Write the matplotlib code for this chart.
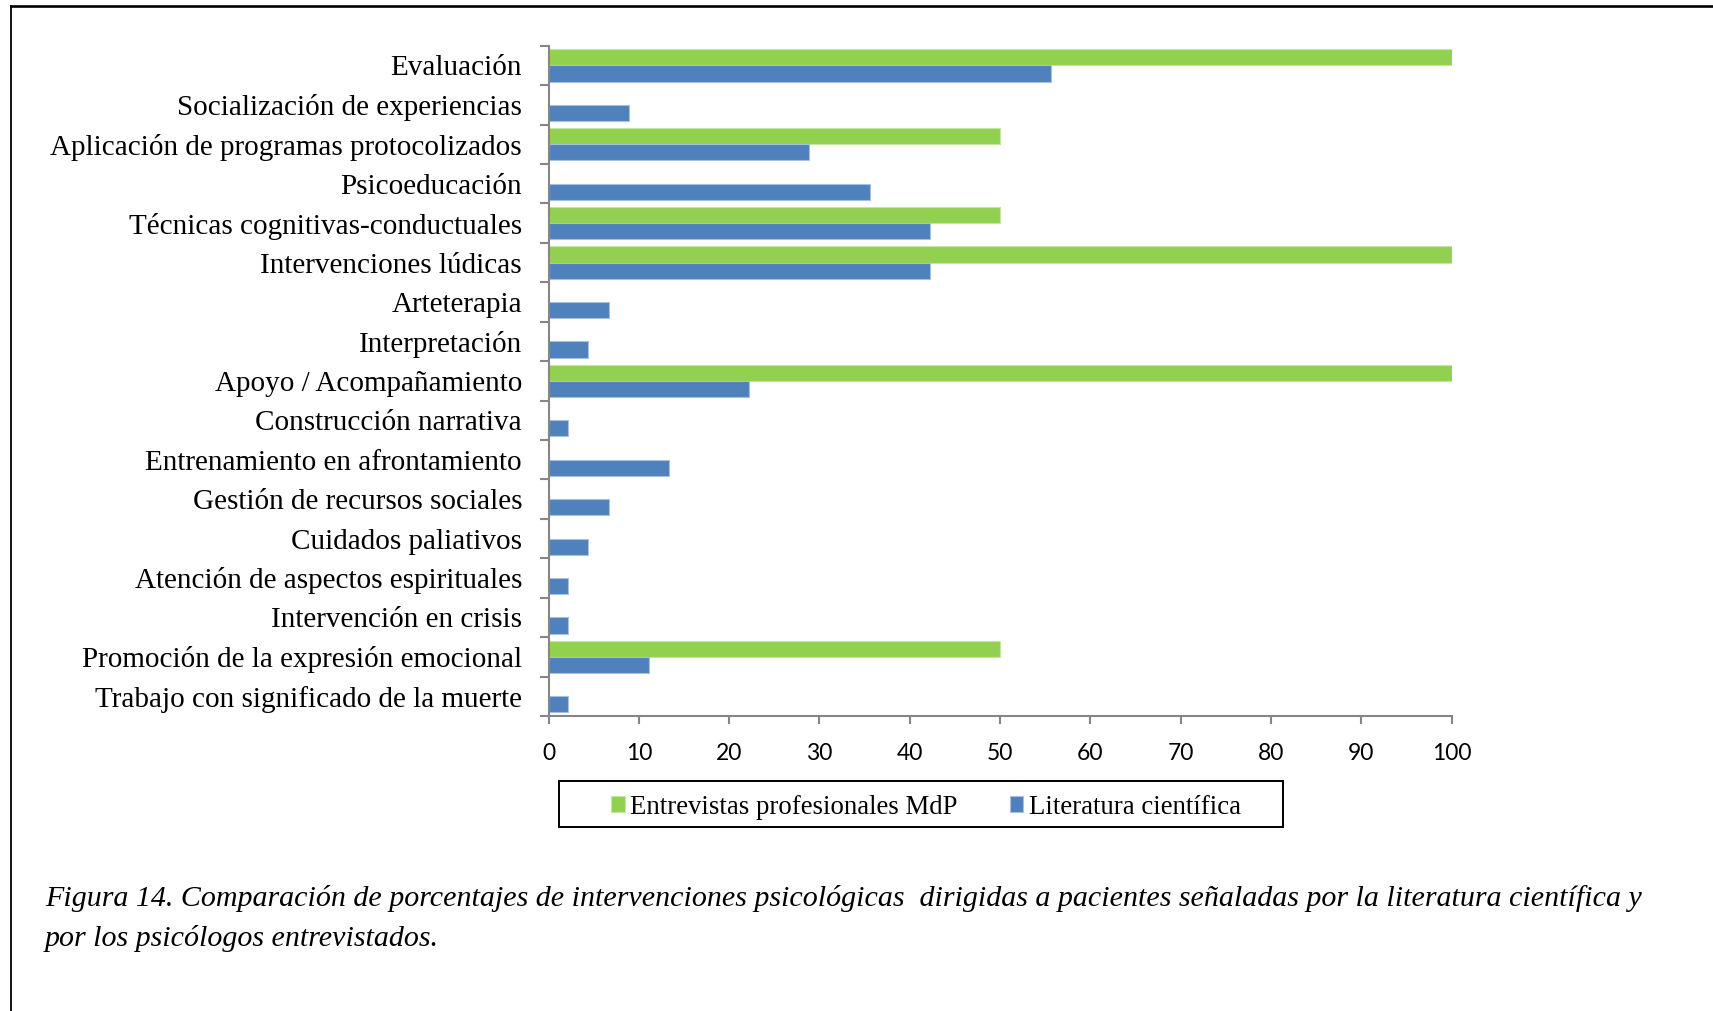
import matplotlib.pyplot as plt
from matplotlib.patches import Rectangle
from matplotlib.lines import Line2D

# ===========================
# Datos
# ===========================
categorias = [
    "Evaluación",
    "Socialización de experiencias",
    "Aplicación de programas protocolizados",
    "Psicoeducación",
    "Técnicas cognitivas-conductuales",
    "Intervenciones lúdicas",
    "Arteterapia",
    "Interpretación",
    "Apoyo / Acompañamiento",
    "Construcción narrativa",
    "Entrenamiento en afrontamiento",
    "Gestión de recursos sociales",
    "Cuidados paliativos",
    "Atención de aspectos espirituales",
    "Intervención en crisis",
    "Promoción de la expresión emocional",
    "Trabajo con significado de la muerte",
]
entrevistas = [100, 0, 50, 0, 50, 100, 0, 0, 100, 0, 0, 0, 0, 0, 0, 50, 0]
literatura = [55.6, 8.9, 28.9, 35.6, 42.2, 42.2, 6.7, 4.4, 22.2, 2.2, 13.3, 6.7, 4.4, 2.2, 2.2, 11.1, 2.2]
xticks = [0, 10, 20, 30, 40, 50, 60, 70, 80, 90, 100]

verde = "#92D050"
azul = "#4F81BD"
gris = "#868686"
serif = ["Liberation Serif", "DejaVu Serif"]

fig = plt.figure(figsize=(17.13, 10.11), dpi=100)
W, H = 1713, 1011
ax = fig.add_axes([548.5 / W, 1 - 716 / H, (1451.5 - 548.5) / W, (716 - 45.7) / H])

n = len(categorias)
pos = list(range(n))
alto = 0.41
ax.barh([p - alto / 2 for p in pos], entrevistas, height=alto, color=verde,
        edgecolor="#C3E6A0", linewidth=0.8, label="Entrevistas profesionales MdP")
ax.barh([p + alto / 2 for p in pos], literatura, height=alto, color=azul,
        edgecolor="#A7C0DE", linewidth=0.8, label="Literatura científica")

ax.set_ylim(n - 0.5, -0.5)
ax.set_xlim(0, 100)

# ejes estilo Excel
for s in ["top", "right"]:
    ax.spines[s].set_visible(False)
for s in ["left", "bottom"]:
    ax.spines[s].set_color(gris)
    ax.spines[s].set_linewidth(1.5)

ax.set_yticks(pos)
ax.set_yticklabels(categorias, family=serif, fontsize=21)
ax.set_yticks([p - 0.5 for p in range(n + 1)], minor=True)
ax.tick_params(axis="y", which="major", length=0, pad=19)
ax.tick_params(axis="y", which="minor", length=6.5, width=1.5, color=gris, direction="out")

ax.set_xticks(xticks)
ax.set_xticklabels([str(v) for v in xticks], family=["Lato", "DejaVu Sans"], fontsize=16.5)
ax.tick_params(axis="x", length=5.8, width=1.5, color=gris, direction="out", pad=14)

# ===========================
# Leyenda
# ===========================
fig.patches.append(Rectangle((559 / W, 1 - 826.7 / H), (1283 - 559) / W, 46 / H,
                             transform=fig.transFigure, fill=False,
                             edgecolor="black", linewidth=1.4))
handles, labels = ax.get_legend_handles_labels()
fig.legend(handles, labels, loc="center", bbox_to_anchor=(926 / W, 1 - 807 / H),
           ncol=2, frameon=False, prop={"family": serif, "size": 19.3},
           handlelength=0.5, handleheight=0.5, handletextpad=0.2, columnspacing=1.95)

# ===========================
# Marco y pie de figura
# ===========================
fig.add_artist(Line2D([11 / W, 11 / W], [0, 1 - 6 / H],
                      transform=fig.transFigure, color="black", linewidth=1.3))
fig.add_artist(Line2D([11 / W, 1], [1 - 6 / H, 1 - 6 / H],
                      transform=fig.transFigure, color="black", linewidth=1.9))

fig.text(45 / W, 1 - 899 / H,
         "Figura 14. Comparación de porcentajes de intervenciones psicológicas  dirigidas a pacientes señaladas por la literatura científica y",
         family=serif, style="italic", fontsize=21.6, va="center", ha="left")
fig.text(45 / W, 1 - 939 / H, "por los psicólogos entrevistados.",
         family=serif, style="italic", fontsize=21.6, va="center", ha="left")

fig.savefig("out.png", dpi=100)
